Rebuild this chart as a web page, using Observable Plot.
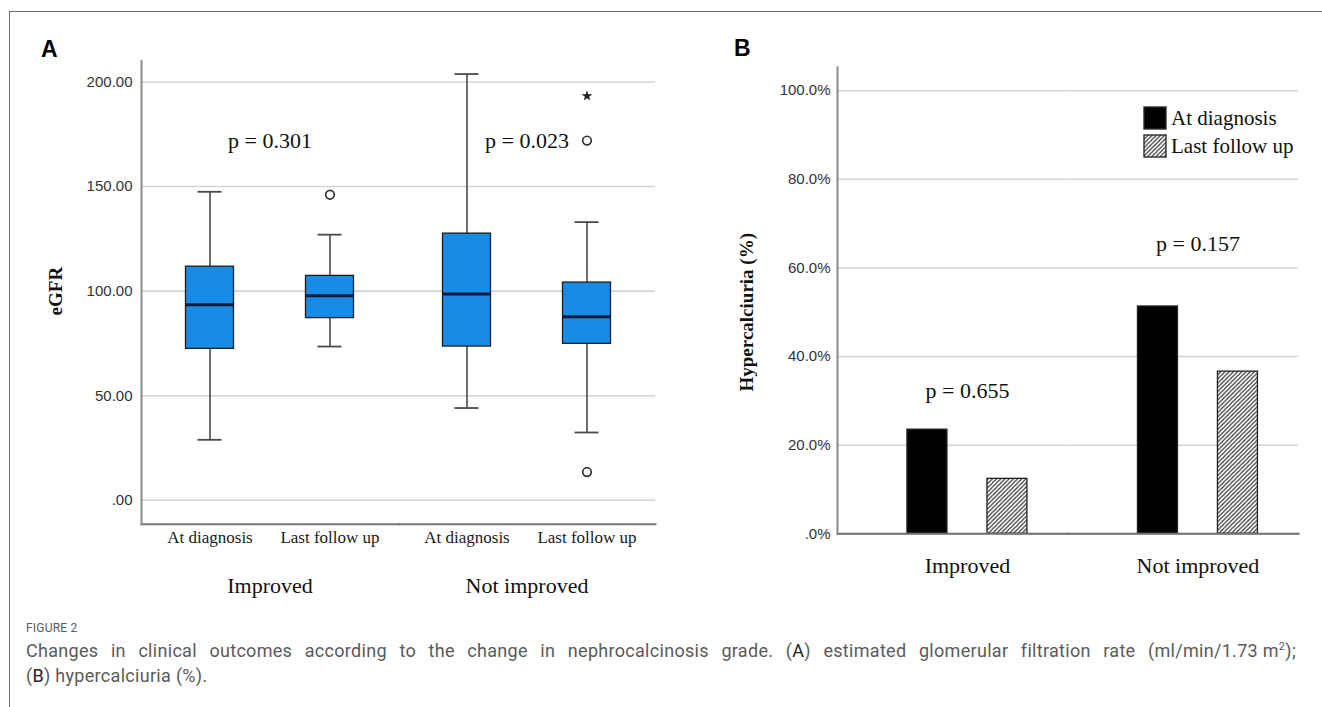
<!DOCTYPE html>
<html>
<head>
<meta charset="utf-8">
<script src="https://cdn.jsdelivr.net/npm/d3@7"></script>
<script src="https://cdn.jsdelivr.net/npm/@observablehq/plot@0.6"></script>
<style>
  html, body { margin: 0; padding: 0; background: #fff; }
  body { width: 1322px; height: 707px; position: relative; overflow: hidden; font-family: "Liberation Sans", Arial, sans-serif; }
  #frame { position: absolute; left: 9px; top: 11px; width: 1313px; height: 700px; border-top: 1px solid #6e6e6e; border-left: 1px solid #6e6e6e; box-sizing: border-box; }
  .panel { position: absolute; top: 0; }
  #panelA { left: 0; width: 690px; height: 600px; }
  #panelB { left: 690px; width: 632px; height: 600px; }
  .letter { position: absolute; font: bold 23px "Liberation Sans", Arial, sans-serif; line-height: 1; color: #000; }
  #legendB { position: absolute; left: 1144px; top: 104px; color: #111; }
  #legendB div, #legendB span { font-family: "Liberation Serif", "Times New Roman", serif !important; font-size: 21px !important; color: #111; }
  #legendB > div { margin: 0 !important; }
  #legendB .lgb-swatch { height: 28px; line-height: 28px; padding: 0 !important; }
  #legendB .lgb-swatch > svg { margin-right: 5px !important; }
  #legendB svg rect { stroke: #2a2a2a; stroke-width: 1.4px; }
  #caption { position: absolute; left: 26px; top: 619px; width: 1270px; color: #5a5a5a; font-family: Roboto, "Liberation Sans", Arial, sans-serif; }
  #caption .fig { font-size: 12px; line-height: 18px; letter-spacing: 0.2px; }
  #caption .line { font-size: 18px; line-height: 25px; letter-spacing: 0.3px; }
  #caption .l1 { margin-top: 1px; text-align: justify; text-align-last: justify; }
  #caption .nb { display: inline-block; white-space: nowrap; }
  #caption b { font-weight: normal; color: #222; }
</style>
</head>
<body>
<div id="frame"></div>
<div id="panelA" class="panel"></div>
<div id="panelB" class="panel"></div>
<div class="letter" style="left:41px; top:38px;">A</div>
<div class="letter" style="left:734px; top:37px;">B</div>
<div id="legendB"></div>
<div id="caption">
  <div class="fig">FIGURE 2</div>
  <div class="line l1">Changes in clinical outcomes according to the change in nephrocalcinosis grade. (<b>A</b>) estimated glomerular filtration rate <span class="nb">(ml/min/1.73 m<sup style="font-size:11px;line-height:0">2</sup>);</span></div>
  <div class="line">(<b>B</b>) hypercalciuria (%).</div>
</div>
<script>
// ---------- shared categories ----------
const groups = ["Improved", "Not improved"];
const times = ["At diagnosis", "Last follow up"];

// ---------- Panel A: eGFR box plots (order: Improved/At dx, Improved/Last, Not improved/At dx, Not improved/Last) ----------
const egfrWhiskerLow  = [28.9, 73.5, 44.1, 32.4];
const egfrQ1          = [72.4, 87.1, 73.5, 74.8];
const egfrMedian      = [93.5, 97.8, 98.6, 87.7];
const egfrQ3          = [111.7, 107.3, 127.5, 104.1];
const egfrWhiskerHigh = [147.5, 127.0, 203.8, 133.0];
// outliers (circles) and extreme value (star)
const outlierGroup = ["Improved", "Not improved", "Not improved"];
const outlierTime  = ["Last follow up", "Last follow up", "Last follow up"];
const outlierValue = [146.1, 172.0, 13.5];
const extremeGroup = ["Not improved"];
const extremeTime  = ["Last follow up"];
const extremeValue = [193.3];
const egfrTicks = [0, 50, 100, 150, 200];
const egfrTickLabels = [".00", "50.00", "100.00", "150.00", "200.00"];
const egfrDomain = [-11.5, 210];
const egfrTitle = "eGFR";
const pLabelsA = ["p = 0.301", "p = 0.023"];
const pYA = [172, 172];

// ---------- Panel B: hypercalciuria (%) ----------
const hyperAtDiagnosis  = [23.5, 51.3];
const hyperLastFollowUp = [12.4, 36.6];
const hyperTicks = [0, 20, 40, 60, 80, 100];
const hyperTickLabels = [".0%", "20.0%", "40.0%", "60.0%", "80.0%", "100.0%"];
const hyperDomain = [0, 105.3];
const hyperTitle = "Hypercalciuria (%)";
const pLabelsB = ["p = 0.655", "p = 0.157"];
const pYB = [32.3, 65.5];
const midSlot = "between";

const SERIF = "Liberation Serif, Times New Roman, serif";
const SANS = "Liberation Sans, Arial, sans-serif";

// ---------- build tables ----------
const boxData = [];
groups.forEach((g, gi) => times.forEach((t, ti) => {
  const i = gi * times.length + ti;
  boxData.push({group: g, time: t, lo: egfrWhiskerLow[i], q1: egfrQ1[i], med: egfrMedian[i], q3: egfrQ3[i], hi: egfrWhiskerHigh[i]});
}));
const outliers = outlierValue.map((v, i) => ({group: outlierGroup[i], time: outlierTime[i], value: v}));
const extremes = extremeValue.map((v, i) => ({group: extremeGroup[i], time: extremeTime[i], value: v}));
const pDataA = groups.map((g, i) => ({group: g, label: pLabelsA[i], y: pYA[i]}));

const barData = [];
groups.forEach((g, gi) => {
  barData.push({group: g, time: times[0], value: hyperAtDiagnosis[gi]});
  barData.push({group: g, time: times[1], value: hyperLastFollowUp[gi]});
});
const pDataB = groups.map((g, i) => ({group: g, label: pLabelsB[i], y: pYB[i]}));

const fillRange = ["#000000", "url(#hatchB)"];

// ---------- Panel A ----------
const plotA = Plot.plot({
  width: 690, height: 600,
  marginLeft: 141, marginRight: 35, marginTop: 60.6, marginBottom: 76.2,
  style: {background: "transparent", fontFamily: SERIF, color: "#1a1a1a", overflow: "visible"},
  fx: {domain: groups, paddingInner: 0, paddingOuter: 0, round: false, axis: null},
  x: {domain: times, paddingInner: 0.6, paddingOuter: 0.3708, align: 0.5, round: false, axis: null},
  y: {domain: egfrDomain, axis: null},
  marks: [
    Plot.gridY(egfrTicks, {stroke: "#d3d3d3", strokeOpacity: 1, strokeWidth: 1.6}),
    Plot.axisY(egfrTicks, {tickSize: 0, tickPadding: 9, fontSize: 15, fontFamily: SANS, fill: "#333",
      tickFormat: d => egfrTickLabels[egfrTicks.indexOf(d)], label: null}),
    Plot.axisX({tickSize: 0, tickPadding: 7, fontSize: 17, fontFamily: SERIF, fill: "#1a1a1a", label: null}),
    Plot.ruleX(boxData, {fx: "group", x: "time", y1: "lo", y2: "hi", stroke: "#4a4a4a", strokeWidth: 1.6}),
    Plot.tickY(boxData, {fx: "group", x: "time", y: "lo", insetLeft: 12, insetRight: 12, stroke: "#4a4a4a", strokeWidth: 1.8}),
    Plot.tickY(boxData, {fx: "group", x: "time", y: "hi", insetLeft: 12, insetRight: 12, stroke: "#4a4a4a", strokeWidth: 1.8}),
    Plot.barY(boxData, {fx: "group", x: "time", y1: "q1", y2: "q3", fill: "#178ce6", stroke: "#1e1e1e", strokeWidth: 1.3}),
    Plot.tickY(boxData, {fx: "group", x: "time", y: "med", stroke: "#0b1a33", strokeWidth: 3}),
    Plot.dot(outliers, {fx: "group", x: "time", y: "value", r: 4.3, fill: "white", stroke: "#333", strokeWidth: 1.7}),
    Plot.dot(extremes, {fx: "group", x: "time", y: "value", symbol: "star", r: 3.4, fill: "#222", stroke: "none"}),
    Plot.frame({anchor: "bottom", stroke: "#777", strokeWidth: 2}),
    Plot.frame({anchor: "left", facetAnchor: "left", stroke: "#8c8c8c", strokeWidth: 2}),
    Plot.text(pDataA, {fx: "group", y: "y", text: "label", fontSize: 22, fill: "#111"}),
    Plot.text(groups, {fx: d => d, text: d => d, frameAnchor: "bottom", lineAnchor: "middle", dy: 62, fontSize: 22, fill: "#111"}),
    Plot.text([egfrTitle], {fx: () => groups[0], y: () => (egfrTicks[0] + egfrTicks[egfrTicks.length - 1]) / 2,
      text: d => d, frameAnchor: "left", textAnchor: "middle", lineAnchor: "middle", rotate: -90, dx: -85.6,
      fontSize: 19, fontWeight: "bold", fill: "#111"})
  ]
});
document.getElementById("panelA").appendChild(plotA);

// ---------- Panel B ----------
const plotB = Plot.plot({
  width: 632, height: 600,
  marginLeft: 147, marginRight: 24, marginTop: 66.7, marginBottom: 66.7,
  style: {background: "transparent", fontFamily: SERIF, color: "#1a1a1a", overflow: "visible"},
  fx: {domain: groups, paddingInner: 0, paddingOuter: 0, round: false, axis: null},
  x: {domain: [times[0], midSlot, times[1]], paddingInner: 0, paddingOuter: 1.38125, align: 0.633, round: false, axis: null},
  y: {domain: hyperDomain, axis: null},
  color: {domain: times, range: fillRange},
  marks: [
    Plot.gridY(hyperTicks, {stroke: "#d3d3d3", strokeOpacity: 1, strokeWidth: 1.6}),
    Plot.axisY(hyperTicks, {tickSize: 0, tickPadding: 7, fontSize: 15, fontFamily: SANS, fill: "#333",
      tickFormat: d => hyperTickLabels[hyperTicks.indexOf(d)], label: null}),
    Plot.barY(barData, {fx: "group", x: "time", y: "value", fill: "time", stroke: "#222", strokeWidth: 1.3}),
    Plot.frame({anchor: "bottom", stroke: "#6f6f6f", strokeWidth: 2}),
    Plot.frame({anchor: "left", facetAnchor: "left", stroke: "#8c8c8c", strokeWidth: 2}),
    Plot.text(pDataB, {fx: "group", x: () => midSlot, y: "y", text: "label", fontSize: 22, fill: "#111"}),
    Plot.text(groups, {fx: d => d, x: () => midSlot, text: d => d, frameAnchor: "bottom", lineAnchor: "middle", dy: 32.4, fontSize: 22, fill: "#111"}),
    Plot.text([hyperTitle], {fx: () => groups[0], y: () => (hyperTicks[0] + hyperTicks[hyperTicks.length - 1]) / 2,
      text: d => d, frameAnchor: "left", textAnchor: "middle", lineAnchor: "middle", rotate: -90, dx: -90.6,
      fontSize: 19, fontWeight: "bold", fill: "#111"})
  ]
});

// hatch pattern for "Last follow up"
const defs = d3.select(plotB).insert("defs", ":first-child");
const w = 4.2;
const pat = defs.append("pattern").attr("id", "hatchB").attr("patternUnits", "userSpaceOnUse").attr("width", w).attr("height", w);
pat.append("rect").attr("width", w).attr("height", w).attr("fill", "#fff");
pat.append("path")
  .attr("d", `M-1,1 L1,-1 M0,${w} L${w},0 M${w - 1},${w + 1} L${w + 1},${w - 1}`)
  .attr("stroke", "#2a2a2a").attr("stroke-width", 1.1);
document.getElementById("panelB").appendChild(plotB);

// legend from the same color scale
const legend = Plot.legend({
  color: {type: "ordinal", domain: times, range: fillRange},
  legend: "swatches", columns: 1, swatchSize: 22, className: "lgb"
});
document.getElementById("legendB").appendChild(legend);
</script>
</body>
</html>
